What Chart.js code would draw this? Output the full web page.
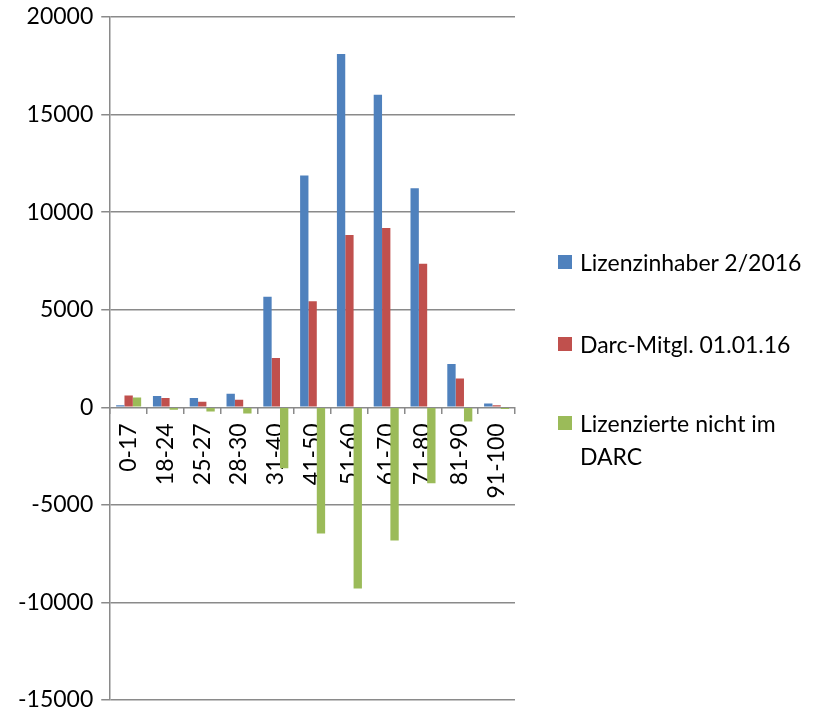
<!DOCTYPE html>
<html>
<head>
<meta charset="utf-8">
<script src="https://cdn.jsdelivr.net/npm/chart.js@4/dist/chart.umd.min.js"></script>
<style>
    html, body { margin: 0; padding: 0; background: #fff; }
    #wrap { position: relative; width: 815px; height: 712px; }
    #legend { position: absolute; left: 558px; top: 0; font-family: Lato, sans-serif; font-size: 23px; color: #000; }
    .item { position: absolute; left: 0; display: flex; align-items: flex-start; white-space: nowrap; line-height: 33px; }
    .box { width: 14px; height: 14px; margin-top: 9px; margin-right: 8px; flex: none; }
</style>
</head>
<body>
<div id="wrap">
    <canvas id="ageChart" width="815" height="712"></canvas>
    <div id="legend"></div>
</div>
<script>
// Altersgruppen
const categories = ['0-17', '18-24', '25-27', '28-30', '31-40', '41-50', '51-60', '61-70', '71-80', '81-90', '91-100'];

// Werte
const lizenzinhaber = [100, 580, 480, 700, 5660, 11880, 18100, 16020, 11220, 2220, 190];
const darcMitglieder = [600, 480, 290, 380, 2530, 5440, 8830, 9190, 7350, 1470, 100];
const nichtImDarc = [500, -120, -220, -320, -3120, -6470, -9290, -6830, -3890, -730, -90];

const seriesNames = ['Lizenzinhaber 2/2016', 'Darc-Mitgl. 01.01.16', ['Lizenzierte nicht im', 'DARC']];
const seriesColors = ['#4F81BD', '#C0504D', '#9BBB59'];
const legendTops = [246, 328, 407];

const gridColor = '#8a8a8a';
const font = { family: 'Lato', size: 23 };

const ctx = document.getElementById('ageChart').getContext('2d');
const chart = new Chart(ctx, {
    type: 'bar',
    data: {
        labels: categories,
        datasets: [lizenzinhaber, darcMitglieder, nichtImDarc].map(function (values, i) {
            return {
                label: [].concat(seriesNames[i]).join(' '),
                data: values,
                backgroundColor: seriesColors[i],
                borderWidth: 0,
                categoryPercentage: 0.68,
                barPercentage: 1.0
            };
        })
    },
    options: {
        responsive: false,
        animation: false,
        layout: {
            padding: { left: 10, right: 300, top: 17, bottom: 12 }
        },
        plugins: {
            legend: { display: false },
            tooltip: { enabled: false }
        },
        scales: {
            x: {
                position: { y: 0 },
                afterFit: function (scale) { scale.height = 0; },
                grid: {
                    drawOnChartArea: false,
                    color: gridColor,
                    lineWidth: 1.5,
                    tickLength: 7
                },
                border: { display: false },
                ticks: {
                    color: '#000',
                    font: font,
                    minRotation: 90,
                    maxRotation: 90,
                    padding: 9
                }
            },
            y: {
                min: -15000,
                max: 20000,
                afterFit: function (scale) {
                    // Platz oben/unten nur über layout.padding steuern
                    scale.paddingTop = 0;
                    scale.paddingBottom = 0;
                },
                ticks: {
                    stepSize: 5000,
                    color: '#000',
                    font: font,
                    padding: 8,
                    callback: function (value) { return String(value); }
                },
                grid: {
                    color: gridColor,
                    lineWidth: 1.5,
                    tickLength: 9
                },
                border: { color: gridColor, width: 1.5 }
            }
        }
    }
});

// Legende als HTML
const legendEl = document.getElementById('legend');
chart.data.datasets.forEach(function (ds, i) {
    const item = document.createElement('div');
    item.className = 'item';
    item.style.top = legendTops[i] + 'px';
    const box = document.createElement('span');
    box.className = 'box';
    box.style.background = ds.backgroundColor;
    const text = document.createElement('span');
    text.innerHTML = [].concat(seriesNames[i]).join('<br>');
    item.appendChild(box);
    item.appendChild(text);
    legendEl.appendChild(item);
});
</script>
</body>
</html>
